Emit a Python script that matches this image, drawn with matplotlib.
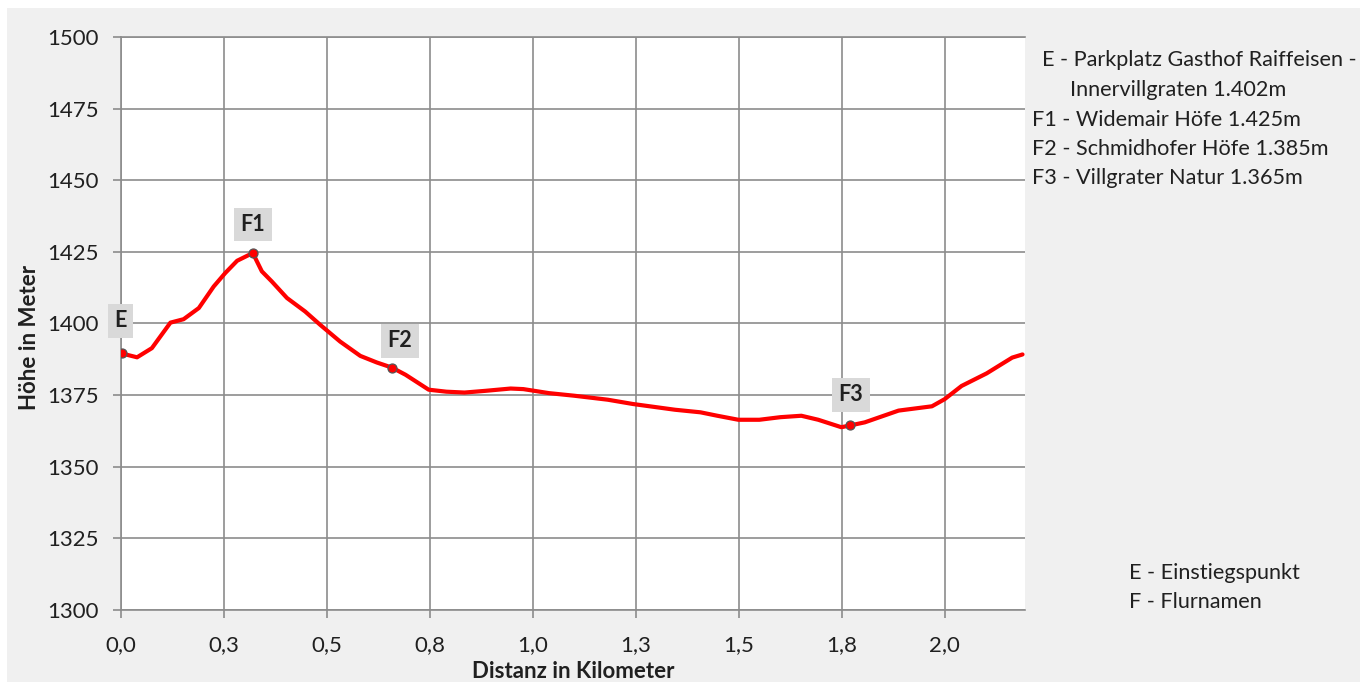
import matplotlib
matplotlib.use("Agg")
import matplotlib.pyplot as plt
from matplotlib.patches import Rectangle

# ---------------- data ----------------
dist = [0.000, 0.039, 0.075, 0.120, 0.152, 0.189, 0.225, 0.253, 0.282, 0.320,
        0.342, 0.366, 0.403, 0.447, 0.484, 0.532, 0.581, 0.621, 0.658, 0.691,
        0.747, 0.790, 0.834, 0.885, 0.946, 0.977, 1.039, 1.100, 1.182, 1.243,
        1.345, 1.407, 1.448, 1.499, 1.550, 1.601, 1.652, 1.693, 1.749, 1.770,
        1.806, 1.888, 1.969, 2.000, 2.041, 2.102, 2.138, 2.164, 2.189]
elev = [1389.6, 1388.2, 1391.4, 1400.3, 1401.5, 1405.4, 1412.9, 1417.6, 1421.9, 1424.6,
        1418.2, 1414.7, 1408.9, 1404.2, 1399.5, 1393.7, 1388.7, 1386.4, 1384.6, 1382.1,
        1376.9, 1376.2, 1375.9, 1376.5, 1377.3, 1377.1, 1375.7, 1374.8, 1373.4, 1371.9,
        1369.9, 1369.0, 1367.8, 1366.4, 1366.4, 1367.3, 1367.8, 1366.4, 1363.8, 1364.4,
        1365.5, 1369.6, 1371.1, 1373.6, 1378.2, 1382.6, 1385.8, 1388.1, 1389.2]

marker_x = [0.002, 0.320, 0.658, 1.770]
marker_y = [1389.6, 1424.6, 1384.6, 1364.6]
marker_labels = ["E", "F1", "F2", "F3"]

x_tick_labels = ["0,0", "0,3", "0,5", "0,8", "1,0", "1,3", "1,5", "1,8", "2,0"]
y_ticks = [1300, 1325, 1350, 1375, 1400, 1425, 1450, 1475, 1500]

legend_top = ["E - Parkplatz Gasthof Raiffeisen -",
              "Innervillgraten 1.402m",
              "F1 - Widemair Höfe 1.425m",
              "F2 - Schmidhofer Höfe 1.385m",
              "F3 - Villgrater Natur 1.365m"]
legend_bottom = ["E - Einstiegspunkt", "F - Flurnamen"]

# ---------------- figure ----------------
W, H = 1360, 682
plt.rcParams['font.family'] = ['Lato', 'DejaVu Sans']
fig = plt.figure(figsize=(W / 100, H / 100), dpi=100)
fig.patch.set_facecolor("white")
fig.patches.append(Rectangle((7 / W, 0), 1, 1 - 8 / H, transform=fig.transFigure,
                             facecolor="#f0f0f0", edgecolor="none", zorder=-10))

def fx(px):
    return px / W

def fy(py):
    return 1 - py / H

ax = fig.add_axes([fx(121), fy(610), (1025 - 121) / W, (610 - 37) / H])
ax.set_facecolor("white")

txt_c = "#202020"
grid_c = "#8c8c8c"
ax.set_xlim(0, 2.195)
ax.set_ylim(1300, 1500)
xt = [i * 0.25 for i in range(len(x_tick_labels))]
ax.set_xticks(xt)
ax.set_xticklabels(x_tick_labels)
ax.set_yticks(y_ticks)
ax.grid(True, color=grid_c, linewidth=1.2, zorder=0)
ax.set_axisbelow(True)
for s in ["left", "bottom", "top"]:
    ax.spines[s].set_color(grid_c)
    ax.spines[s].set_linewidth(1.2)
ax.spines["right"].set_visible(False)
ax.tick_params(axis="both", colors=grid_c, length=6, width=1.2, direction="out",
               labelcolor=txt_c, labelsize=16)
ax.tick_params(axis="y", pad=10)
ax.tick_params(axis="x", pad=12)

ax.plot(dist, elev, color="#ff0000", linewidth=3, solid_joinstyle="round",
        solid_capstyle="round", zorder=3)
ax.plot(marker_x, marker_y, linestyle="none", marker="o", markersize=6.5,
        markerfacecolor="#ff0000", markeredgecolor="#555555", markeredgewidth=0.9,
        zorder=4)

offsets = [(-1, 32.5), (0, 28.5), (8, 27), (1, 30)]
for x, y, lab, (dx, dy) in zip(marker_x, marker_y, marker_labels, offsets):
    ax.annotate(lab, (x, y), xytext=(dx * 0.72, dy * 0.72), textcoords="offset points",
                ha="center", va="center", fontsize=15.5, fontweight="bold", color=txt_c,
                bbox=dict(boxstyle="square,pad=0.3", facecolor="#d9d9d9", edgecolor="none"),
                zorder=5)

fig.text(fx(30), fy(337), "Höhe in Meter", rotation=90, ha="center", va="center",
         fontsize=16, fontweight="bold", color=txt_c)
fig.text(fx(573), fy(672), "Distanz in Kilometer", ha="center", va="center",
         fontsize=16, fontweight="bold", color=txt_c)

leg_pos = [(1042, 60), (1070, 90), (1032, 120), (1032, 149), (1032, 178)]
for (px, py), t in zip(leg_pos, legend_top):
    fig.text(fx(px), fy(py), t, ha="left", va="center", fontsize=15.6, color=txt_c)
for (px, py), t in zip([(1129, 573), (1129, 602)], legend_bottom):
    fig.text(fx(px), fy(py), t, ha="left", va="center", fontsize=15.6, color=txt_c)

fig.savefig("out.png", dpi=100)
